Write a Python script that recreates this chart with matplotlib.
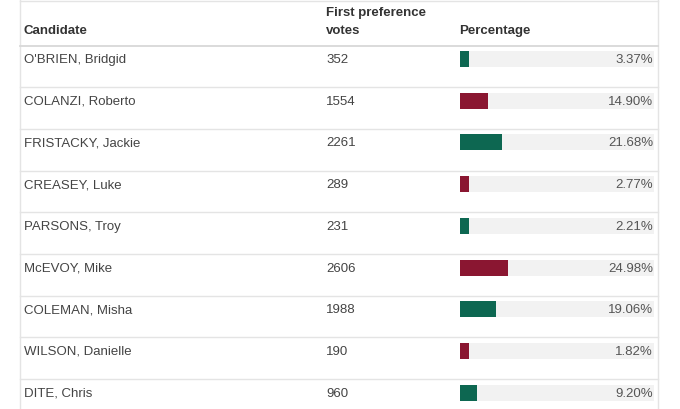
import matplotlib
matplotlib.use('Agg')
import matplotlib.pyplot as plt

# Data
candidates = ["O'BRIEN, Bridgid", "COLANZI, Roberto", "FRISTACKY, Jackie",
              "CREASEY, Luke", "PARSONS, Troy", "McEVOY, Mike",
              "COLEMAN, Misha", "WILSON, Danielle", "DITE, Chris"]
votes = [352, 1554, 2261, 289, 231, 2606, 1988, 190, 960]
percentages = [3.37, 14.90, 21.68, 2.77, 2.21, 24.98, 19.06, 1.82, 9.20]
bar_colors = ["green", "red", "green", "red", "green", "red", "green", "red", "green"]

# Colour scheme
GREEN = "#0d6751"
RED = "#8a1631"
TRACK = "#f2f2f2"
TEXT = "#444444"
HEAD = "#333333"
LINE = "#e4e4e4"
PALETTE = {"green": GREEN, "red": RED}

W, H = 680, 409
HEADER_H = 45.5
ROW_H = 41.7
TEXT_OFF = 14.5
BAR_X0, BAR_X1 = 459.5, 653.5
MIN_PCT = 5.0  # short bars still show a stub

plt.rcParams['font.family'] = ['Liberation Sans', 'DejaVu Sans']

fig = plt.figure(figsize=(W / 100, H / 100), dpi=100)

# Bars in their own axes, scaled 0-100%
n_visible = (H - HEADER_H) / ROW_H
bax = fig.add_axes([BAR_X0 / W, 0, (BAR_X1 - BAR_X0) / W, (H - HEADER_H) / H])
bax.set_xlim(0, 100)
bax.set_ylim(n_visible, 0)
bax.axis('off')
rows = [i + 13.5 / ROW_H for i in range(len(candidates))]
bh = 16 / ROW_H
bax.barh(rows, [100] * len(rows), height=bh, color=TRACK, lw=0)
bax.barh(rows, [max(p, MIN_PCT) for p in percentages], height=bh,
         color=[PALETTE[c] for c in bar_colors], lw=0)

# Text and lines on top
ax = fig.add_axes([0, 0, 1, 1])
ax.set_zorder(2)
ax.set_xlim(0, W)
ax.set_ylim(H, 0)
ax.axis('off')

# Table frame
ax.plot([20, 20], [0, H], color=LINE, lw=1)
ax.plot([658, 658], [0, H], color=LINE, lw=1)
ax.plot([20, 658], [0.5, 0.5], color=LINE, lw=1)
ax.plot([20, 658], [HEADER_H, HEADER_H], color="#d8d8d8", lw=1.3)

# Header
ax.text(24, 31, "Candidate", fontsize=9.5, fontweight='bold', color=HEAD, va='center')
ax.text(326, 13, "First preference", fontsize=9.5, fontweight='bold', color=HEAD, va='center')
ax.text(326, 31, "votes", fontsize=9.5, fontweight='bold', color=HEAD, va='center')
ax.text(459, 31, "Percentage", fontsize=9.5, fontweight='bold', color=HEAD, va='center')

# Rows
for i, (name, v, pct) in enumerate(zip(candidates, votes, percentages)):
    top = HEADER_H + i * ROW_H
    y = top + TEXT_OFF
    ax.text(24, y, name, fontsize=9.5, color=TEXT, va='center')
    ax.text(326, y, str(v), fontsize=9.5, color=TEXT, va='center')
    ax.text(653, y, f"{pct:.2f}%", fontsize=9.5, color="#555555", va='center', ha='right')
    if i > 0:
        ax.plot([20, 658], [top, top], color=LINE, lw=1)

fig.savefig("out.png", dpi=100, facecolor="white")
